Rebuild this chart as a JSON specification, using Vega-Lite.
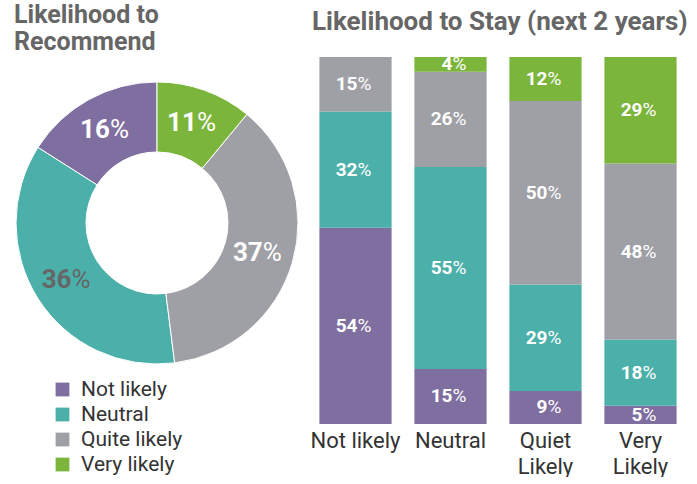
{
  "$schema": "https://vega.github.io/schema/vega-lite/v6.json",
  "config": {"font": "Roboto", "view": {"stroke": null}, "concat": {"spacing": 8}},
  "padding": {"left": 14, "top": 3, "right": 5, "bottom": 0},
  "resolve": {"scale": {"color": "independent"}, "legend": {"color": "independent"}},
  "datasets": {
    "rec": [
      {"cat": "Not likely", "v": 16, "o": 4},
      {"cat": "Neutral", "v": 36, "o": 3},
      {"cat": "Quite likely", "v": 37, "o": 2},
      {"cat": "Very likely", "v": 11, "o": 1}
    ],
    "stay": [
      {"grp": "Not likely", "cat": "Not likely", "v": 54, "o": 1},
      {"grp": "Not likely", "cat": "Neutral", "v": 32, "o": 2},
      {"grp": "Not likely", "cat": "Quite likely", "v": 15, "o": 3},
      {"grp": "Neutral", "cat": "Not likely", "v": 15, "o": 1},
      {"grp": "Neutral", "cat": "Neutral", "v": 55, "o": 2},
      {"grp": "Neutral", "cat": "Quite likely", "v": 26, "o": 3},
      {"grp": "Neutral", "cat": "Very likely", "v": 4, "o": 4},
      {"grp": "Quiet Likely", "cat": "Not likely", "v": 9, "o": 1},
      {"grp": "Quiet Likely", "cat": "Neutral", "v": 29, "o": 2},
      {"grp": "Quiet Likely", "cat": "Quite likely", "v": 50, "o": 3},
      {"grp": "Quiet Likely", "cat": "Very likely", "v": 12, "o": 4},
      {"grp": "Very Likely", "cat": "Not likely", "v": 5, "o": 1},
      {"grp": "Very Likely", "cat": "Neutral", "v": 18, "o": 2},
      {"grp": "Very Likely", "cat": "Quite likely", "v": 48, "o": 3},
      {"grp": "Very Likely", "cat": "Very likely", "v": 29, "o": 4}
    ]
  },
  "hconcat": [
    {
      "title": {"text": ["Likelihood to", "Recommend"], "anchor": "start", "fontSize": 25, "fontWeight": "bold", "color": "#666666", "lineHeight": 27, "offset": 2},
      "width": 284,
      "height": 332,
      "data": {"name": "rec"},
      "layer": [
        {
          "mark": {"type": "arc", "innerRadius": 71, "outerRadius": 141, "stroke": "white", "strokeWidth": 1},
          "encoding": {
            "theta": {"field": "v", "type": "quantitative", "stack": true},
            "order": {"field": "o", "type": "quantitative"},
            "color": {
              "field": "cat", "type": "nominal",
              "scale": {"domain": ["Not likely", "Neutral", "Quite likely", "Very likely"], "range": ["#7f6ea0", "#4bafaa", "#9ea0a5", "#7bb53c"]},
              "legend": {"title": null, "orient": "none", "direction": "vertical", "legendX": 37, "legendY": 322, "symbolType": "square", "symbolSize": 190, "symbolStrokeWidth": 0, "labelFontSize": 21, "labelColor": "#333333", "rowPadding": 3, "labelOffset": 8}
            }
          }
        },
        {
          "mark": {"type": "text", "radius": 106, "align": "right", "dx": 4, "fontSize": 26, "fontWeight": "bold"},
          "encoding": {
            "theta": {"field": "v", "type": "quantitative", "stack": true},
            "order": {"field": "o", "type": "quantitative"},
            "detail": {"field": "cat"},
            "text": {"field": "v"},
            "color": {"condition": {"test": "datum.cat == 'Neutral'", "value": "#666666"}, "value": "white"}
          }
        },
        {
          "mark": {"type": "text", "radius": 106, "align": "left", "dx": 4, "fontSize": 26},
          "encoding": {
            "theta": {"field": "v", "type": "quantitative", "stack": true},
            "order": {"field": "o", "type": "quantitative"},
            "detail": {"field": "cat"},
            "text": {"value": "%"},
            "color": {"condition": {"test": "datum.cat == 'Neutral'", "value": "#666666"}, "value": "white"}
          }
        }
      ]
    },
    {
      "title": {"text": "Likelihood to Stay (next 2 years)", "anchor": "start", "fontSize": 26, "fontWeight": "bold", "color": "#666666", "offset": 20, "dx": 4},
      "width": 380,
      "height": 367,
      "data": {"name": "stay"},
      "transform": [
        {"stack": "v", "groupby": ["grp"], "sort": [{"field": "o", "order": "ascending"}], "offset": "normalize", "as": ["y0", "y1"]},
        {"calculate": "(datum.y0 + datum.y1) / 2", "as": "ym"}
      ],
      "encoding": {
        "x": {
          "field": "grp", "type": "nominal",
          "sort": ["Not likely", "Neutral", "Quiet Likely", "Very Likely"],
          "scale": {"paddingInner": 0.24, "paddingOuter": 0.12},
          "axis": {"title": null, "labelAngle": 0, "labelFontSize": 22, "labelColor": "#333333", "ticks": false, "domain": false, "labelPadding": 6, "labelLineHeight": 26, "labelBaseline": "top", "labelExpr": "datum.label == 'Not likely' ? datum.label : split(datum.label, ' ')"}
        }
      },
      "layer": [
        {
          "mark": {"type": "bar"},
          "encoding": {
            "y": {"field": "y0", "type": "quantitative", "scale": {"domain": [0, 1]}, "axis": null},
            "y2": {"field": "y1"},
            "color": {
              "field": "cat", "type": "nominal",
              "scale": {"domain": ["Not likely", "Neutral", "Quite likely", "Very likely"], "range": ["#7f6ea0", "#4bafaa", "#9ea0a5", "#7bb53c"]},
              "legend": null
            }
          }
        },
        {
          "mark": {"type": "text", "align": "right", "dx": 2, "fontSize": 19, "fontWeight": "bold", "color": "white"},
          "encoding": {"y": {"field": "ym", "type": "quantitative"}, "text": {"field": "v"}}
        },
        {
          "mark": {"type": "text", "align": "left", "dx": 2, "fontSize": 19, "color": "white"},
          "encoding": {"y": {"field": "ym", "type": "quantitative"}, "text": {"value": "%"}}
        }
      ]
    }
  ]
}
